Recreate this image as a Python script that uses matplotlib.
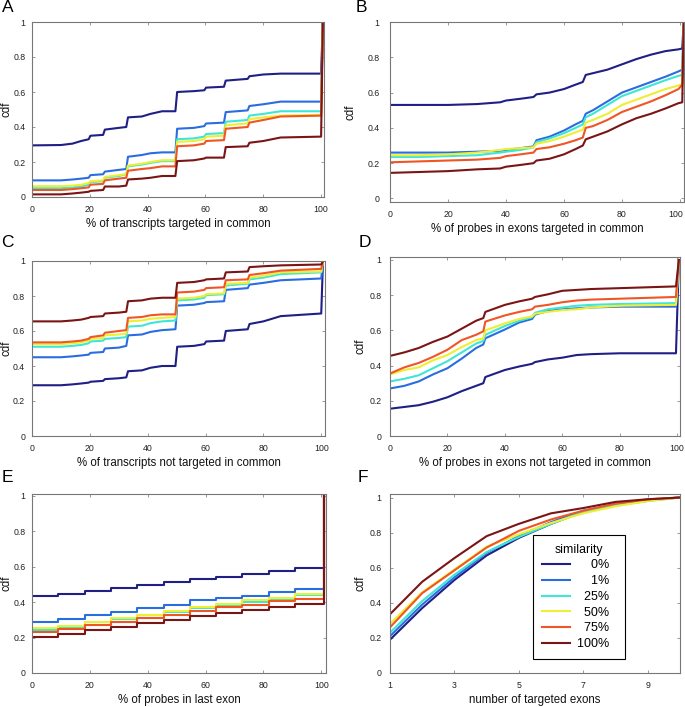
import matplotlib
matplotlib.use('Agg')
import matplotlib.pyplot as plt
import matplotlib.transforms as mtransforms

plt.rcParams['font.family'] = ['Liberation Sans', 'DejaVu Sans']

W, H = 685, 707

similarity = ['0%', '1%', '25%', '50%', '75%', '100%']
legend_labels = ['\u2007\u20070%\u2007', '\u2007\u20071%\u2007', '\u200725%\u2007',
                 '\u200750%\u2007', '\u200775%\u2007', '100%\u2007']
colors = ['#1f1f86', '#2a6de0', '#3fe6d6', '#eeee33', '#f05526', '#7b1515']

ytick_vals = [0, 0.2, 0.4, 0.6, 0.8, 1]
ytick_labels = ['0', '0.2', '0.4', '0.6', '0.8', '1']
pct_ticks = [0, 20, 40, 60, 80, 100]

# ---------------- Panel A ----------------
A_x = [0, 10, 14, 17, 19.6, 20.2, 24.6, 25.2, 30, 32.6, 33.2, 38, 41, 45, 49.6, 50.2,
       56, 59.6, 60.2, 66.4, 67.0, 74.6, 75.2, 80, 86, 100, 100.6]
A_0 = [0.295, 0.297, 0.305, 0.32, 0.33, 0.35, 0.355, 0.385, 0.395, 0.40, 0.455, 0.46, 0.475,
       0.49, 0.49, 0.60, 0.605, 0.61, 0.625, 0.63, 0.665, 0.675, 0.69, 0.70, 0.705, 0.705, 1.0]
A_1 = [0.095, 0.095, 0.10, 0.105, 0.11, 0.125, 0.13, 0.145, 0.155, 0.16, 0.23, 0.24, 0.25,
       0.255, 0.255, 0.39, 0.395, 0.405, 0.42, 0.425, 0.485, 0.495, 0.52, 0.53, 0.545, 0.545, 1.0]
A_25 = [0.05, 0.05, 0.055, 0.06, 0.07, 0.085, 0.09, 0.11, 0.12, 0.13, 0.175, 0.185, 0.195,
        0.205, 0.205, 0.33, 0.335, 0.345, 0.36, 0.365, 0.43, 0.44, 0.465, 0.475, 0.49, 0.49, 1.0]
A_50 = [0.062, 0.062, 0.065, 0.07, 0.08, 0.09, 0.095, 0.115, 0.125, 0.13, 0.18, 0.19, 0.20,
        0.21, 0.21, 0.315, 0.32, 0.33, 0.345, 0.35, 0.41, 0.42, 0.445, 0.455, 0.465, 0.47, 1.0]
A_75 = [0.04, 0.04, 0.045, 0.05, 0.055, 0.07, 0.075, 0.095, 0.105, 0.11, 0.15, 0.16, 0.165,
        0.175, 0.175, 0.29, 0.295, 0.305, 0.32, 0.325, 0.39, 0.40, 0.425, 0.44, 0.46, 0.465, 1.0]
A_100 = [0.015, 0.015, 0.02, 0.025, 0.03, 0.035, 0.04, 0.06, 0.06, 0.065, 0.10, 0.105, 0.11,
         0.12, 0.12, 0.205, 0.21, 0.22, 0.225, 0.225, 0.285, 0.29, 0.31, 0.32, 0.34, 0.345, 1.0]

# ---------------- Panel B ----------------
B_x = [0, 10, 20, 30, 38, 40, 45, 49.5, 50.5, 55, 60, 64, 66.5, 67.5, 70, 75, 80, 85, 90, 95,
       99.5, 100.8, 101.3]
B_0 = [0.53, 0.53, 0.53, 0.535, 0.545, 0.555, 0.565, 0.575, 0.59, 0.60, 0.62, 0.645, 0.66,
       0.70, 0.71, 0.73, 0.76, 0.79, 0.815, 0.835, 0.845, 0.85, 1.0]
B_1 = [0.26, 0.26, 0.26, 0.265, 0.27, 0.275, 0.285, 0.295, 0.33, 0.35, 0.385, 0.42, 0.44,
       0.48, 0.50, 0.55, 0.60, 0.63, 0.66, 0.69, 0.72, 0.73, 1.0]
B_25 = [0.235, 0.235, 0.24, 0.245, 0.26, 0.265, 0.275, 0.29, 0.32, 0.34, 0.37, 0.40, 0.42,
        0.46, 0.48, 0.53, 0.58, 0.61, 0.64, 0.67, 0.695, 0.70, 1.0]
B_50 = [0.245, 0.245, 0.25, 0.26, 0.275, 0.28, 0.285, 0.29, 0.31, 0.325, 0.35, 0.375, 0.39,
        0.43, 0.445, 0.48, 0.53, 0.56, 0.59, 0.62, 0.64, 0.65, 1.0]
B_75 = [0.205, 0.21, 0.215, 0.22, 0.23, 0.24, 0.25, 0.26, 0.28, 0.29, 0.31, 0.33, 0.345,
        0.40, 0.41, 0.445, 0.49, 0.52, 0.55, 0.585, 0.62, 0.645, 1.0]
B_100 = [0.145, 0.15, 0.155, 0.165, 0.17, 0.18, 0.19, 0.2, 0.215, 0.225, 0.25, 0.28, 0.30,
         0.335, 0.35, 0.38, 0.42, 0.455, 0.48, 0.51, 0.54, 0.545, 1.0]

# ---------------- Panel C ----------------
C_x = A_x
C_0 = [0.29, 0.29, 0.295, 0.30, 0.305, 0.31, 0.315, 0.325, 0.33, 0.335, 0.37, 0.375, 0.39,
       0.40, 0.40, 0.51, 0.515, 0.525, 0.54, 0.545, 0.60, 0.61, 0.64, 0.655, 0.685, 0.70, 1.0]
C_1 = [0.45, 0.45, 0.455, 0.46, 0.465, 0.475, 0.48, 0.50, 0.505, 0.515, 0.575, 0.58, 0.595,
       0.605, 0.61, 0.745, 0.75, 0.76, 0.765, 0.77, 0.835, 0.845, 0.865, 0.875, 0.89, 0.90, 1.0]
C_25 = [0.51, 0.51, 0.515, 0.52, 0.53, 0.54, 0.545, 0.555, 0.56, 0.565, 0.625, 0.63, 0.645,
        0.655, 0.66, 0.775, 0.78, 0.79, 0.805, 0.81, 0.86, 0.87, 0.895, 0.905, 0.925, 0.935, 1.0]
C_50 = [0.525, 0.525, 0.53, 0.535, 0.545, 0.555, 0.56, 0.575, 0.58, 0.585, 0.655, 0.66, 0.67,
        0.675, 0.68, 0.785, 0.79, 0.80, 0.81, 0.815, 0.87, 0.875, 0.905, 0.915, 0.935, 0.94, 1.0]
C_75 = [0.535, 0.535, 0.54, 0.545, 0.555, 0.565, 0.575, 0.59, 0.60, 0.605, 0.675, 0.68, 0.69,
        0.695, 0.695, 0.82, 0.825, 0.835, 0.845, 0.85, 0.89, 0.895, 0.92, 0.93, 0.945, 0.955, 1.0]
C_100 = [0.655, 0.655, 0.66, 0.665, 0.675, 0.68, 0.685, 0.70, 0.705, 0.71, 0.77, 0.775, 0.785,
         0.79, 0.79, 0.875, 0.88, 0.89, 0.895, 0.90, 0.935, 0.94, 0.965, 0.97, 0.975, 0.98, 1.0]

# ---------------- Panel D ----------------
D_x = [0, 5, 10, 15, 20, 25, 30, 32.5, 33.2, 40, 45, 49.5, 50.5, 55, 60, 65, 70, 80, 99.6, 100.6]
D_0 = [0.155, 0.165, 0.175, 0.195, 0.22, 0.255, 0.285, 0.30, 0.335, 0.375, 0.395, 0.41, 0.42,
       0.435, 0.445, 0.46, 0.465, 0.47, 0.47, 1.0]
D_1 = [0.27, 0.285, 0.31, 0.35, 0.385, 0.44, 0.50, 0.52, 0.555, 0.605, 0.645, 0.665, 0.69,
       0.71, 0.72, 0.725, 0.73, 0.735, 0.735, 1.0]
D_25 = [0.31, 0.325, 0.345, 0.385, 0.425, 0.475, 0.525, 0.54, 0.575, 0.625, 0.655, 0.675, 0.70,
        0.72, 0.73, 0.74, 0.745, 0.75, 0.755, 1.0]
D_50 = [0.35, 0.375, 0.39, 0.43, 0.46, 0.505, 0.545, 0.555, 0.60, 0.64, 0.665, 0.68, 0.695,
        0.705, 0.715, 0.72, 0.73, 0.74, 0.745, 1.0]
D_75 = [0.355, 0.39, 0.415, 0.45, 0.49, 0.545, 0.575, 0.595, 0.65, 0.685, 0.705, 0.72, 0.735,
        0.745, 0.76, 0.77, 0.775, 0.78, 0.79, 1.0]
D_100 = [0.455, 0.475, 0.50, 0.535, 0.565, 0.61, 0.655, 0.67, 0.705, 0.745, 0.765, 0.78, 0.79,
         0.805, 0.825, 0.83, 0.835, 0.84, 0.85, 1.0]

# ---------------- Panel E (steps) ----------------
E_x = [0, 9.1, 18.2, 27.3, 36.4, 45.5, 54.5, 63.6, 72.7, 81.8, 90.9, 100, 100.8]
E_0 = [0.435, 0.447, 0.46, 0.48, 0.497, 0.513, 0.53, 0.543, 0.558, 0.573, 0.592, 0.592, 1.0]
E_1 = [0.288, 0.307, 0.327, 0.345, 0.368, 0.385, 0.41, 0.422, 0.435, 0.455, 0.475, 0.475, 1.0]
E_25 = [0.245, 0.262, 0.285, 0.307, 0.325, 0.345, 0.365, 0.383, 0.40, 0.42, 0.44, 0.44, 1.0]
E_50 = [0.255, 0.268, 0.29, 0.31, 0.33, 0.35, 0.37, 0.39, 0.41, 0.425, 0.445, 0.445, 1.0]
E_75 = [0.232, 0.25, 0.27, 0.29, 0.31, 0.33, 0.35, 0.37, 0.385, 0.405, 0.42, 0.42, 1.0]
E_100 = [0.203, 0.22, 0.24, 0.26, 0.28, 0.30, 0.32, 0.34, 0.355, 0.37, 0.39, 0.39, 1.0]

# ---------------- Panel F ----------------
F_x = [1, 2, 3, 4, 5, 6, 7, 8, 9, 10]
F_0 = [0.19, 0.37, 0.53, 0.67, 0.77, 0.85, 0.92, 0.96, 0.985, 1.0]
F_1 = [0.21, 0.39, 0.545, 0.685, 0.78, 0.86, 0.925, 0.96, 0.985, 1.0]
F_25 = [0.23, 0.41, 0.56, 0.69, 0.775, 0.85, 0.92, 0.955, 0.98, 1.0]
F_50 = [0.28, 0.46, 0.59, 0.72, 0.79, 0.855, 0.91, 0.95, 0.98, 1.0]
F_75 = [0.26, 0.455, 0.585, 0.715, 0.81, 0.875, 0.925, 0.965, 0.99, 1.0]
F_100 = [0.335, 0.52, 0.655, 0.78, 0.85, 0.91, 0.94, 0.975, 0.99, 1.0]

panels = [
    dict(letter='A', x=A_x, ys=[A_0, A_1, A_25, A_50, A_75, A_100], box=(32, 324, 22, 197),
         xlim=(0, 101), ylim=(0, 1.0), xlabel='% of transcripts targeted in common',
         letter_pos=(7.5, 8), step=False, ylab_x=8, ypad=4.5),
    dict(letter='B', x=B_x, ys=[B_0, B_1, B_25, B_50, B_75, B_100], box=(390, 684, 22, 202),
         xlim=(0, 101.4), ylim=(-0.02, 1.0), xlabel='% of probes in exons targeted in common',
         letter_pos=(361, 8), step=False, ylab_x=352, ypad=7.5),
    dict(letter='C', x=C_x, ys=[C_0, C_1, C_25, C_50, C_75, C_100], box=(32, 325, 261, 436),
         xlim=(0, 101.3), ylim=(0, 1.0), xlabel='% of transcripts not targeted in common',
         letter_pos=(7, 242), step=False, ylab_x=8, ypad=5),
    dict(letter='D', x=D_x, ys=[D_0, D_1, D_25, D_50, D_75, D_100], box=(390, 680, 257, 436),
         xlim=(0, 101), ylim=(0, 1.017), xlabel='% of probes in exons not targeted in common',
         letter_pos=(365, 242), step=False, ylab_x=361, ypad=6),
    dict(letter='E', x=E_x, ys=[E_0, E_1, E_25, E_50, E_75, E_100], box=(32, 326, 494, 673),
         xlim=(0, 101.6), ylim=(0, 1.01), xlabel='% of probes in last exon',
         letter_pos=(7, 478), step=True, ylab_x=8, ypad=4.5),
    dict(letter='F', x=F_x, ys=[F_0, F_1, F_25, F_50, F_75, F_100], box=(390, 680, 494, 673),
         xlim=(1, 10), ylim=(0, 1.02), xlabel='number of targeted exons',
         letter_pos=(363, 478), step=False, ylab_x=361, ypad=6),
]

fig = plt.figure(figsize=(W / 100, H / 100), dpi=100)

for p in panels:
    l, r, t, b = p['box']
    ax = fig.add_axes([l / W, (H - b) / H, (r - l) / W, (b - t) / H])
    for ys, c, lab in zip(p['ys'], colors, legend_labels):
        if p['step']:
            ax.plot(p['x'], ys, color=c, lw=1.5, drawstyle='steps-post', label=lab)
        else:
            ax.plot(p['x'], ys, color=c, lw=1.5, label=lab)
    ax.set_xlim(*p['xlim'])
    ax.set_ylim(*p['ylim'])
    ax.set_yticks(ytick_vals)
    ax.set_yticklabels(ytick_labels)
    if p['letter'] == 'F':
        ax.set_xticks([1, 3, 5, 7, 9])
    else:
        ax.set_xticks(pct_ticks)
    ax.tick_params(direction='in', top=True, right=True, length=2.5, width=0.6,
                   color='#888888', labelsize=6.3, labelcolor='#222222')
    ax.tick_params(axis='x', pad=5.5)
    ax.tick_params(axis='y', pad=p['ypad'])
    if p['letter'] == 'B':
        last = ax.get_xticklabels()[-1]
        last.set_transform(last.get_transform() +
                           mtransforms.ScaledTranslation(-4 / 100, 0, fig.dpi_scale_trans))
    for s in ax.spines.values():
        s.set_color('#777777')
        s.set_linewidth(0.8)
    hpx = b - t
    wpx = r - l
    ax.set_xlabel(p['xlabel'], fontsize=8.3, color='#111111')
    ax.xaxis.set_label_coords(0.5, -21 / hpx)
    ax.set_ylabel('cdf', fontsize=8.3, color='#111111')
    ax.yaxis.set_label_coords((p['ylab_x'] + 5 - l) / wpx, 0.5)
    fig.text(p['letter_pos'][0] / W, 1 - p['letter_pos'][1] / H, p['letter'],
             fontsize=12.5, ha='center', va='center')
    if p['letter'] == 'F':
        leg = ax.legend(title='similarity', loc='upper left', bbox_to_anchor=(0.493, 0.771),
                        borderaxespad=0, fontsize=9, title_fontsize=8.8, handlelength=2.3,
                        handletextpad=0.5, fancybox=False, framealpha=1, edgecolor='black',
                        borderpad=0.7, labelspacing=0.3)
        leg.get_frame().set_linewidth(0.8)

fig.savefig('out.png', dpi=100)
